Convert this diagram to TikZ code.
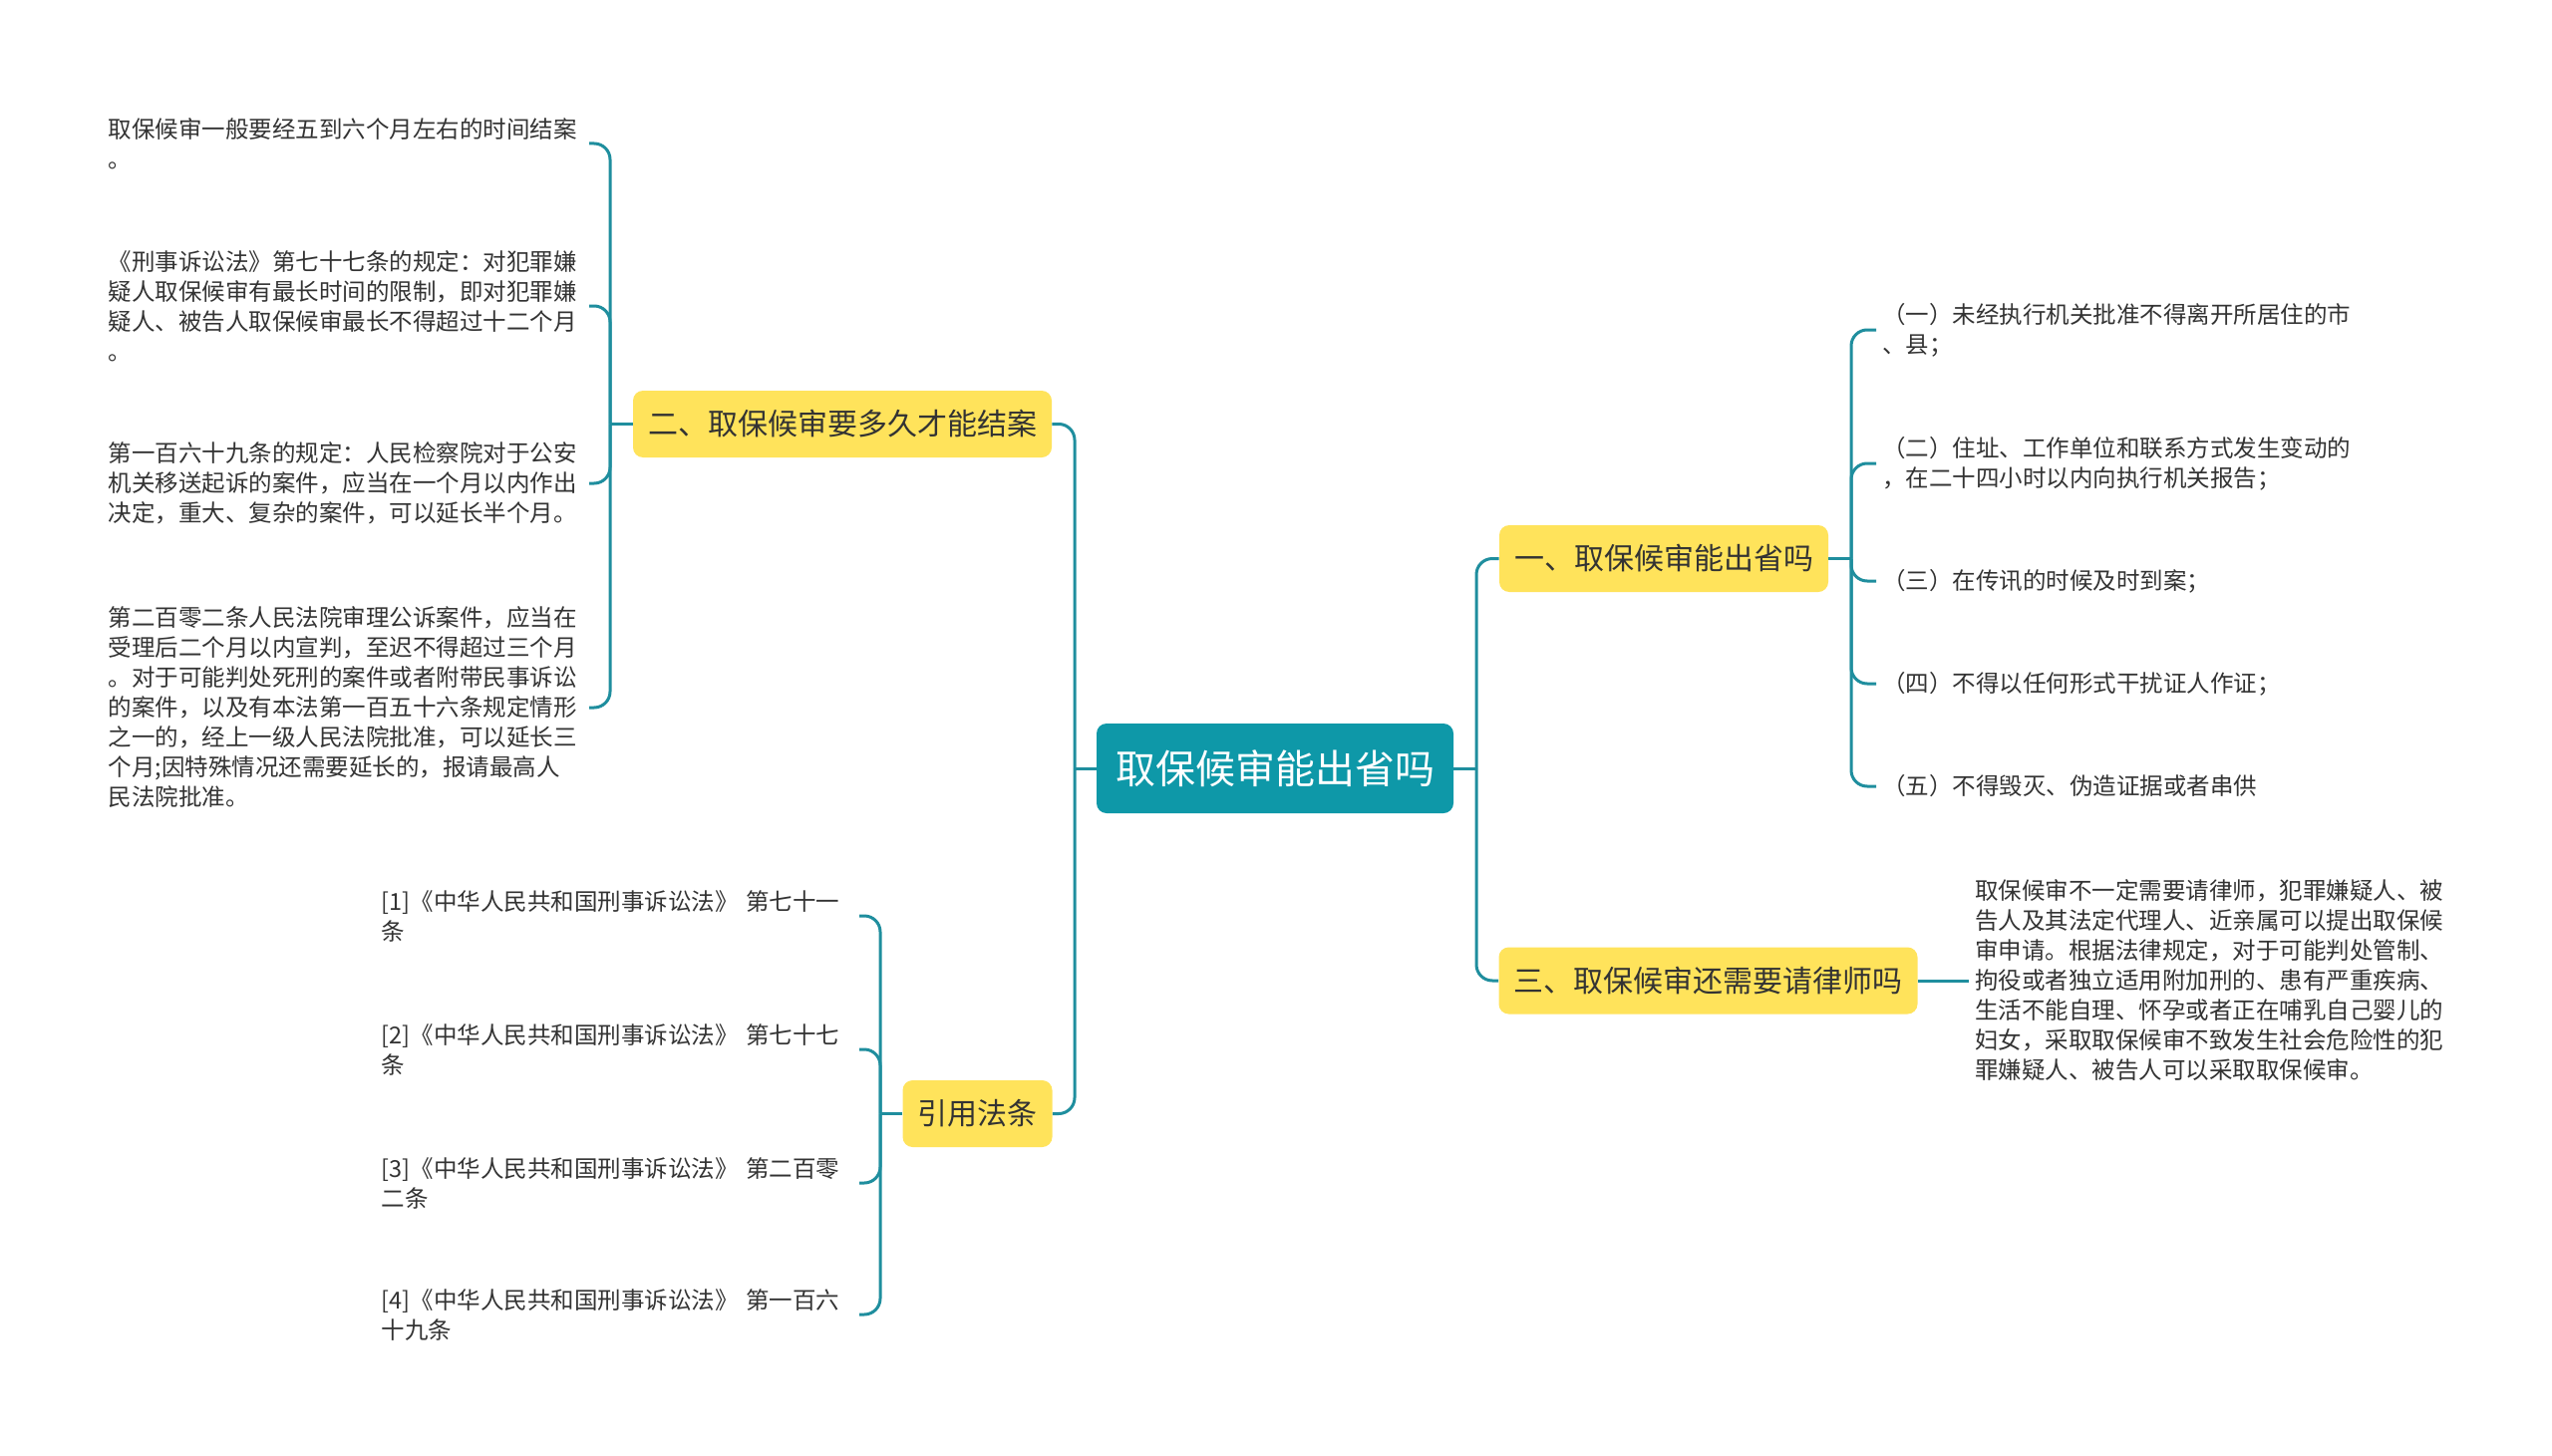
\documentclass[tikz,border=0pt]{standalone}
\usepackage{fontspec}
\setmainfont{Noto Sans CJK SC}
\definecolor{rootc}{HTML}{0E98A8}
\definecolor{linec}{HTML}{1F8E9E}
\definecolor{yel}{HTML}{FFE35B}
\definecolor{txt}{HTML}{333333}
\begin{document}
\begin{tikzpicture}[x=0.5pt,y=-0.5pt,
  rootbox/.style={fill=rootc,rounded corners=5pt,text=white,font=\fontsize{20pt}{24pt}\selectfont,inner xsep=9.5pt,minimum height=45pt},
  branch/.style={fill=yel,rounded corners=5pt,text=txt,font=\fontsize{15pt}{18pt}\selectfont,inner xsep=7.5pt,minimum height=33.5pt},
  leaf/.style={text=txt,font=\fontsize{11.75pt}{15pt}\selectfont,align=left,inner xsep=3pt,inner ysep=2pt},
  conn/.style={draw=linec,line width=1.5pt,rounded corners=8pt},
  stub/.style={draw=linec,line width=1.5pt}]
\useasboundingbox (0,0) rectangle (2560,1461);
\fill[white] (0,0) rectangle (2560,1461);

\node[rootbox] (root) at (1279,771) {取保候审能出省吗};
\node[branch] (b2) at (845,425.5) {二、取保候审要多久才能结案};
\node[branch] (b4) at (980.5,1117.5) {引用法条};
\node[branch] (b1) at (1669,560.5) {一、取保候审能出省吗};
\node[branch] (b3) at (1713.5,984) {三、取保候审还需要请律师吗};

\coordinate (tl) at (1078,771);
\coordinate (tr) at (1481,771);
\coordinate (t1) at (1857,560.5);
\coordinate (t2) at (612,425.5);
\coordinate (t4) at (883,1117.5);

% left leaves of b2
\node[leaf,anchor=east,text width=238pt] (c21) at (591,144) {取保候审一般要经五到六个月左右的时间结案\\。};
\node[leaf,anchor=east,text width=238pt] (c22) at (591,307) {《刑事诉讼法》第七十七条的规定：对犯罪嫌\\疑人取保候审有最长时间的限制，即对犯罪嫌\\疑人、被告人取保候审最长不得超过十二个月\\。};
\node[leaf,anchor=east,text width=238pt] (c23) at (591,485) {第一百六十九条的规定：人民检察院对于公安\\机关移送起诉的案件，应当在一个月以内作出\\决定，重大、复杂的案件，可以延长半个月。};
\node[leaf,anchor=east,text width=238pt] (c24) at (591,710) {第二百零二条人民法院审理公诉案件，应当在\\受理后二个月以内宣判，至迟不得超过三个月\\。对于可能判处死刑的案件或者附带民事诉讼\\的案件，以及有本法第一百五十六条规定情形\\之一的，经上一级人民法院批准，可以延长三\\个月;因特殊情况还需要延长的，报请最高人\\民法院批准。};

% leaves of b4
\node[leaf,anchor=east,text width=236.5pt] (c41) at (862,919) {[1]《中华人民共和国刑事诉讼法》 第七十一\\条};
\node[leaf,anchor=east,text width=236.5pt] (c42) at (862,1053) {[2]《中华人民共和国刑事诉讼法》 第七十七\\条};
\node[leaf,anchor=east,text width=236.5pt] (c43) at (862,1187) {[3]《中华人民共和国刑事诉讼法》 第二百零\\二条};
\node[leaf,anchor=east,text width=236.5pt] (c44) at (862,1319) {[4]《中华人民共和国刑事诉讼法》 第一百六\\十九条};

% leaves of b1
\node[leaf,anchor=west] (c11) at (1882,331) {（一）未经执行机关批准不得离开所居住的市\\、县；};
\node[leaf,anchor=west] (c12) at (1882,465) {（二）住址、工作单位和联系方式发生变动的\\，在二十四小时以内向执行机关报告；};
\node[leaf,anchor=west] (c13) at (1882,583) {（三）在传讯的时候及时到案；};
\node[leaf,anchor=west] (c14) at (1882,686) {（四）不得以任何形式干扰证人作证；};
\node[leaf,anchor=west] (c15) at (1882,789) {（五）不得毁灭、伪造证据或者串供};

% leaf of b3
\node[leaf,anchor=west] (c31) at (1975,984) {取保候审不一定需要请律师，犯罪嫌疑人、被\\告人及其法定代理人、近亲属可以提出取保候\\审申请。根据法律规定，对于可能判处管制、\\拘役或者独立适用附加刑的、患有严重疾病、\\生活不能自理、怀孕或者正在哺乳自己婴儿的\\妇女，采取取保候审不致发生社会危险性的犯\\罪嫌疑人、被告人可以采取取保候审。};

% connectors root
\draw[stub] (root.west) -- (tl);
\draw[stub] (root.east) -- (tr);
\draw[conn] (tl) |- (b2.east);
\draw[conn] (tl) |- (b4.east);
\draw[conn] (tr) |- (b1.west);
\draw[conn] (tr) |- (b3.west);

% b2
\draw[stub] (b2.west) -- (t2);
\foreach \c in {c21,c22,c23,c24}{\draw[conn] (t2) |- (\c.east);}
% b4
\draw[stub] (b4.west) -- (t4);
\foreach \c in {c41,c42,c43,c44}{\draw[conn] (t4) |- (\c.east);}
% b1
\draw[stub] (b1.east) -- (t1);
\foreach \c in {c11,c12,c13,c14,c15}{\draw[conn] (t1) |- (\c.west);}
% b3
\draw[stub] (b3.east) -- (c31.west);
\end{tikzpicture}
\end{document}
